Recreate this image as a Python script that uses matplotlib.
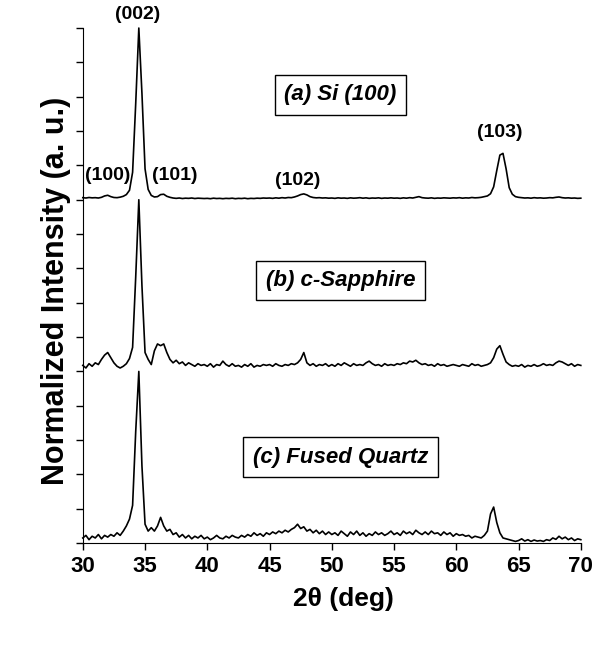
import numpy as np
import matplotlib
matplotlib.use("Agg")
import matplotlib.pyplot as plt

plt.rcParams["font.family"] = ["Liberation Sans", "DejaVu Sans"]

# scan grid (deg), 0.25 step from 30 to 70
two_theta = np.arange(30.0, 70.001, 0.25)

# normalized intensities (peak = 1)
si_100 = [
    .012, .010, .013, .011, .012, .010, .014, .022, .026, .018,
    .013, .012, .015, .020, .030, .055, .160, .560, 1.00, .620,
    .180, .060, .025, .016, .018, .030, .032, .020, .014, .010,
    .008, .010, .007, .009, .008, .010, .007, .009, .008, .007,
    .008, .006, .009, .007, .008, .006, .008, .007, .009, .006,
    .008, .007, .009, .006, .008, .007, .009, .008, .010, .009,
    .010, .008, .011, .009, .012, .010, .013, .012, .016, .022,
    .030, .034, .028, .018, .013, .011, .012, .010, .011, .009,
    .010, .008, .011, .009, .010, .008, .011, .009, .010, .012,
    .009, .011, .008, .010, .009, .011, .008, .010, .009, .011,
    .009, .010, .008, .011, .009, .012, .010, .014, .018, .012,
    .010, .009, .011, .008, .010, .009, .011, .010, .009, .011,
    .010, .012, .009, .011, .010, .013, .011, .012, .014, .018,
    .022, .035, .075, .170, .260, .270, .180, .070, .032, .018,
    .014, .012, .010, .011, .009, .012, .010, .011, .009, .010,
    .012, .011, .014, .016, .012, .010, .011, .009, .010, .008,
    .009,
]
c_sapphire = [
    .035, .020, .045, .030, .050, .040, .070, .095, .110, .080,
    .050, .030, .020, .030, .045, .075, .140, .550, 1.00, .500,
    .110, .070, .040, .120, .160, .150, .160, .110, .070, .050,
    .065, .045, .055, .035, .050, .040, .030, .045, .035, .040,
    .030, .045, .025, .040, .035, .060, .040, .030, .045, .030,
    .035, .025, .040, .030, .045, .025, .035, .030, .040, .035,
    .040, .030, .045, .035, .030, .040, .035, .045, .040, .050,
    .070, .110, .050, .035, .045, .030, .040, .035, .045, .030,
    .040, .030, .045, .035, .050, .040, .030, .045, .035, .040,
    .035, .050, .060, .045, .035, .040, .030, .045, .035, .040,
    .035, .045, .040, .050, .045, .060, .055, .065, .050, .040,
    .045, .035, .040, .030, .045, .035, .040, .030, .035, .040,
    .035, .030, .040, .035, .030, .045, .035, .040, .030, .035,
    .040, .050, .080, .130, .150, .100, .055, .040, .030, .035,
    .030, .040, .025, .035, .030, .040, .030, .035, .045, .035,
    .040, .035, .050, .060, .055, .045, .035, .045, .030, .040,
    .035,
]
fused_quartz = [
    .030, .045, .020, .040, .030, .050, .025, .045, .035, .050,
    .040, .060, .045, .070, .100, .140, .220, .650, 1.00, .450,
    .110, .070, .090, .070, .100, .150, .100, .070, .080, .050,
    .060, .035, .050, .030, .045, .025, .040, .030, .045, .025,
    .035, .020, .030, .045, .030, .025, .040, .030, .045, .035,
    .030, .045, .035, .050, .040, .060, .045, .055, .040, .060,
    .050, .065, .055, .070, .060, .075, .065, .080, .090, .110,
    .085, .095, .070, .080, .060, .075, .055, .070, .050, .065,
    .050, .060, .045, .070, .055, .040, .065, .050, .070, .045,
    .060, .040, .055, .045, .065, .050, .060, .045, .055, .070,
    .050, .060, .045, .070, .055, .065, .050, .075, .060, .050,
    .065, .050, .070, .055, .060, .045, .065, .050, .060, .040,
    .055, .045, .050, .040, .045, .030, .040, .035, .030, .045,
    .070, .170, .210, .120, .060, .030, .025, .020, .015, .010,
    .015, .025, .012, .020, .010, .018, .012, .015, .010, .020,
    .015, .030, .022, .040, .025, .035, .020, .030, .015, .025,
    .020,
]

traces = [si_100, c_sapphire, fused_quartz]
names = ["(a) Si (100)", "(b) c-Sapphire", "(c) Fused Quartz"]
offsets = [2, 1, 0]

peak_labels = ["(002)", "(100)", "(101)", "(102)", "(103)"]
peak_pos = [(34.4, 3.08), (32.0, 2.14), (37.4, 2.14), (47.3, 2.11), (63.5, 2.39)]

fig = plt.figure(figsize=(6.0, 6.52), dpi=100)
ax = fig.add_axes([0.138, 0.167, 0.83, 0.79])

for y, off in zip(traces, offsets):
    ax.plot(two_theta, np.array(y) + off, color="black", lw=1.2, clip_on=False)

box_y = [2.61, 1.53, 0.50]
for name, by in zip(names, box_y):
    ax.text(50.7, by, name, ha="center", va="center", fontsize=16,
            fontweight="bold", fontstyle="italic",
            bbox=dict(boxstyle="square,pad=0.42", fc="white", ec="black", lw=1.0))

for lab, (px, py) in zip(peak_labels, peak_pos):
    ax.text(px, py, lab, ha="center", va="center", fontsize=14,
            fontweight="bold", clip_on=False)

ax.set_xlim(30, 70)
ax.set_ylim(0, 3)
ax.set_xticks(np.arange(30, 71, 5))
ax.set_yticks(np.arange(0, 3.01, 0.2))
ax.set_yticklabels([])
for lbl in ax.get_xticklabels():
    lbl.set_fontweight("bold")
ax.tick_params(axis="x", labelsize=16, length=5, width=1, direction="out", pad=4)
ax.tick_params(axis="y", length=5, width=1, direction="out")
ax.spines["top"].set_visible(False)
ax.spines["right"].set_visible(False)

ax.set_xlabel("2θ (deg)", fontsize=19, fontweight="bold")
ax.set_ylabel("Normalized Intensity (a. u.)", fontsize=22, fontweight="bold")
ax.yaxis.set_label_coords(-0.024, 0.49)
ax.xaxis.set_label_coords(0.524, -0.085)

fig.savefig("out.png", dpi=100)
